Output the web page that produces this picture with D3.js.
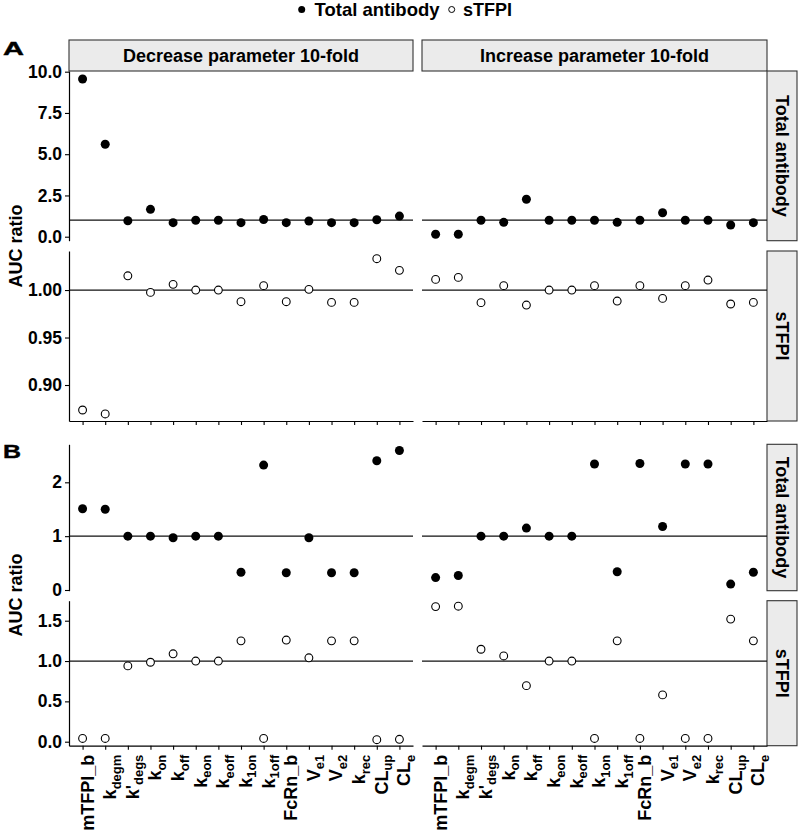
<!DOCTYPE html>
<html>
<head>
<meta charset="utf-8">
<script src="https://cdn.jsdelivr.net/npm/d3@7"></script>
<style>
  html, body { margin: 0; padding: 0; background: #fff; }
  svg { display: block; font-family: "Liberation Sans", Arial, sans-serif; }
</style>
</head>
<body>
<svg id="chart" width="800" height="832"></svg>
<script>
// ---------------- DATA ----------------
const categories = ["mTFPI_b","k_degm","k'_degs","k_on","k_off","k_eon","k_eoff","k_1on","k_1off","FcRn_b","V_e1","V_e2","k_rec","CL_up","CL_e"];
const labelMain = ["mTFPI_b","k","k'","k","k","k","k","k","k","FcRn_b","V","V","k","CL","CL"];
const labelSub  = ["","degm","degs","on","off","eon","eoff","1on","1off","","e1","e2","rec","up","e"];
const columns = ["Decrease parameter 10-fold","Increase parameter 10-fold"];
const rows = ["Total antibody","sTFPI"];
const seriesNames = ["Total antibody","sTFPI"];

// Panel A
const A_total_decrease = [9.56,5.60,0.97,1.66,0.85,1.00,1.00,0.85,1.04,0.85,0.95,0.85,0.85,1.03,1.25];
const A_total_increase = [0.15,0.15,1.00,0.87,2.27,1.00,1.00,1.00,0.87,1.00,1.45,1.00,1.00,0.71,0.85];
const A_stfpi_decrease = [0.8737,0.8695,1.015,0.9975,1.006,1.000,1.000,0.9877,1.0046,0.9877,1.0007,0.987,0.987,1.033,1.0207];
const A_stfpi_increase = [1.0112,1.0133,0.9867,1.0046,0.9842,1.000,1.000,1.0046,0.9884,1.0046,0.9912,1.0046,1.0105,0.9853,0.987];
// Panel B
const B_total_decrease = [1.51,1.50,1.00,1.00,0.97,1.00,1.00,0.33,2.32,0.32,0.97,0.32,0.32,2.40,2.59];
const B_total_increase = [0.23,0.27,1.00,1.00,1.15,1.00,1.00,2.34,0.34,2.35,1.18,2.34,2.34,0.11,0.33];
const B_stfpi_decrease = [0.04,0.04,0.94,0.985,1.09,1.00,1.00,1.25,0.04,1.26,1.04,1.25,1.25,0.025,0.03];
const B_stfpi_increase = [1.675,1.68,1.146,1.063,0.695,1.00,1.00,0.04,1.25,0.04,0.58,0.04,0.04,1.52,1.25];

// y tick values
const A_total_ticks = [0, 2.5, 5, 7.5, 10];
const A_stfpi_ticks = [0.90, 0.95, 1.00];
const B_total_ticks = [0, 1, 2];
const B_stfpi_ticks = [0, 0.5, 1.0, 1.5];

// ---------------- LAYOUT ----------------
const svg = d3.select("#chart");
const colX = [[69, 413], [422, 767]];
const stripTop = 40;
const blocks = [
  { tag: "A", rows: [
      { y: [71, 240.7], domain: [-0.242, 10.042], ticks: A_total_ticks, fmt: d3.format(".1f"), data: [A_total_decrease, A_total_increase], filled: true },
      { y: [251, 421], domain: [0.8621, 1.0411], ticks: A_stfpi_ticks, fmt: d3.format(".2f"), data: [A_stfpi_decrease, A_stfpi_increase], filled: false }
    ], showStripTop: true, showLabels: false },
  { tag: "B", rows: [
      { y: [444.3, 590.7], domain: [-0.013, 2.706], ticks: B_total_ticks, fmt: d3.format("d"), data: [B_total_decrease, B_total_increase], filled: true },
      { y: [600.7, 745.7], domain: [-0.0496, 1.748], ticks: B_stfpi_ticks, fmt: d3.format(".1f"), data: [B_stfpi_decrease, B_stfpi_increase], filled: false }
    ], showStripTop: false, showLabels: true }
];

const stripFill = "#ebebeb", stripStroke = "#333";
const fontBold = 700;

// Legend
const legend = svg.append("g");
legend.append("circle").attr("cx", 301.7).attr("cy", 9.5).attr("r", 3.5).attr("fill", "#000");
legend.append("text").attr("x", 314.5).attr("y", 15.5).attr("font-size", 18.5).attr("font-weight", fontBold).text(seriesNames[0]);
legend.append("circle").attr("cx", 451.7).attr("cy", 9.5).attr("r", 3).attr("fill", "#fff").attr("stroke", "#000").attr("stroke-width", 1);
legend.append("text").attr("x", 463).attr("y", 15.5).attr("font-size", 18).attr("font-weight", fontBold).text(seriesNames[1]);

blocks.forEach((blk, bi) => {
  const top = blk.rows[0].y[0];
  // block tag
  svg.append("text").attr("x", 3).attr("y", blk.tag === "A" ? 55 : 457.5)
    .attr("font-size", 19).attr("font-weight", 900).attr("stroke", "#000").attr("stroke-width", 0.4)
    .attr("textLength", blk.tag === "A" ? 21 : 18).attr("lengthAdjust", "spacingAndGlyphs")
    .text(blk.tag);

  // y label
  const yMid = (blk.rows[0].y[0] + blk.rows[1].y[1]) / 2;
  svg.append("text").attr("transform", `translate(22,${yMid}) rotate(-90)`)
    .attr("text-anchor", "middle").attr("font-size", 18).attr("font-weight", fontBold).text("AUC ratio");

  // top strips
  if (blk.showStripTop) {
    colX.forEach((cx, ci) => {
      svg.append("rect").attr("x", cx[0]).attr("y", stripTop).attr("width", cx[1] - cx[0]).attr("height", top - stripTop)
        .attr("fill", stripFill).attr("stroke", stripStroke).attr("stroke-width", 1.1);
      svg.append("text").attr("x", (cx[0] + cx[1]) / 2).attr("y", (stripTop + top) / 2).attr("dy", "0.36em")
        .attr("text-anchor", "middle").attr("font-size", 18).attr("font-weight", fontBold).text(columns[ci]);
    });
  }

  blk.rows.forEach((row, ri) => {
    const y = d3.scaleLinear().domain(row.domain).range([row.y[1], row.y[0]]);
    // right strip
    svg.append("rect").attr("x", 767).attr("y", row.y[0]).attr("width", 30).attr("height", row.y[1] - row.y[0])
      .attr("fill", stripFill).attr("stroke", stripStroke).attr("stroke-width", 1.1);
    svg.append("text").attr("transform", `translate(782,${(row.y[0] + row.y[1]) / 2}) rotate(90)`)
      .attr("dy", "0.36em").attr("text-anchor", "middle").attr("font-size", 18).attr("font-weight", fontBold).text(rows[ri]);

    colX.forEach((cx, ci) => {
      const x = d3.scalePoint().domain(categories).range(cx).padding(0.6);
      const g = svg.append("g");
      // reference line at 1
      g.append("line").attr("x1", cx[0]).attr("x2", cx[1]).attr("y1", y(1)).attr("y2", y(1))
        .attr("stroke", "#111").attr("stroke-width", 1.2);
      // y axis on left column
      if (ci === 0) {
        const ax = g.append("g").attr("transform", `translate(${cx[0]},0)`)
          .call(d3.axisLeft(y).tickValues(row.ticks).tickFormat(row.fmt).tickSize(4).tickSizeOuter(0).tickPadding(3));
        ax.select(".domain").attr("stroke", "#000").attr("stroke-width", 1.2);
        ax.selectAll(".tick line").attr("stroke", "#000").attr("stroke-width", 1.1);
        ax.selectAll(".tick text").attr("font-size", 17.5).attr("font-weight", fontBold).attr("fill", "#000")
          .attr("font-family", "Liberation Sans, Arial, sans-serif");
      }
      // x axis on bottom row
      if (ri === 1) {
        const ax = g.append("g").attr("transform", `translate(0,${row.y[1]})`)
          .call(d3.axisBottom(x).tickSize(4).tickSizeOuter(0).tickFormat(""));
        ax.select(".domain").attr("stroke", "#000").attr("stroke-width", 1.2);
        ax.selectAll(".tick line").attr("stroke", "#000").attr("stroke-width", 1.1);
        ax.selectAll(".tick text").remove();
        if (blk.showLabels) {
          ax.selectAll(".tick").each(function(d, i) {
            const t = d3.select(this).append("text")
              .attr("transform", "translate(0,9) rotate(-90)")
              .attr("text-anchor", "end").attr("dy", "0.58em")
              .attr("font-size", 18).attr("font-weight", fontBold).attr("fill", "#000")
              .attr("font-family", "Liberation Sans, Arial, sans-serif");
            t.append("tspan").text(labelMain[i]);
            if (labelSub[i]) t.append("tspan").attr("font-size", 13).attr("dy", 4.5).text(labelSub[i]);
          });
        }
      }
      // points
      g.selectAll("circle.pt").data(row.data[ci]).join("circle").attr("class", "pt")
        .attr("cx", (d, i) => x(categories[i])).attr("cy", d => y(d))
        .attr("r", row.filled ? 4.5 : 3.9)
        .attr("fill", row.filled ? "#000" : "#fff")
        .attr("stroke", "#000").attr("stroke-width", row.filled ? 0 : 1.1);
    });
  });
});
</script>
</body>
</html>
